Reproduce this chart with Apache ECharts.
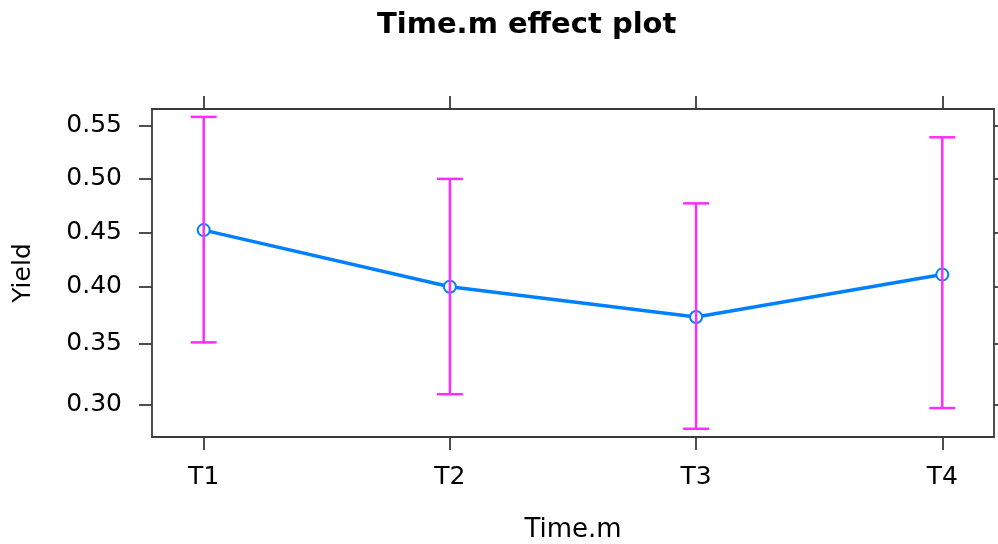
<!DOCTYPE html>
<html>
<head>
<meta charset="utf-8">
<script src="https://cdn.jsdelivr.net/npm/echarts@6/dist/echarts.min.js"></script>
<style>
  html, body { margin: 0; padding: 0; background: #fff; }
  #chart { width: 998px; height: 544px; }
</style>
</head>
<body>
<div id="chart"></div>
<script>
// effect estimates per level (probability scale)
var cats = ['T1', 'T2', 'T3', 'T4'];
var fit = [0.452, 0.400, 0.373, 0.411];
var lower = [0.351, 0.308, 0.281, 0.297];
var upper = [0.558, 0.500, 0.477, 0.539];
var yTicks = [0.30, 0.35, 0.40, 0.45, 0.50, 0.55];
var yLim = [0.2748, 0.5653];
var xLim = [0.79, 4.21];

// the y axis is on the logit scale
function logit(p) { return Math.log(p / (1 - p)); }
function invLogit(v) { return 1 / (1 + Math.exp(-v)); }

var xPos = cats.map(function (c, i) { return i + 1; });
var lineData = [];
var barData = [];
for (var i = 0; i < cats.length; i++) {
	lineData.push([xPos[i], logit(fit[i])]);
	barData.push([xPos[i], logit(lower[i]), logit(upper[i])]);
}
var yTickVals = yTicks.map(logit);

var font = 'DejaVu Sans';
var axisCol = '#3a3a3a';

function frameAxis(extra) {
	var ax = {
		type: 'value',
		axisLine: { show: true, onZero: false, lineStyle: { color: axisCol, width: 1.8 } },
		axisTick: { show: true, length: 13, lineStyle: { color: axisCol, width: 1.8 } },
		axisLabel: { show: false },
		splitLine: { show: false }
	};
	for (var k in extra) ax[k] = extra[k];
	return ax;
}

var dom = document.getElementById('chart');
var myChart = echarts.init(dom);
var option = {
	animation: false,
	title: {
		text: 'Time.m effect plot',
		left: 372,
		top: 6,
		textStyle: { fontFamily: font, fontWeight: 'bold', fontSize: 29, color: '#000' }
	},
	grid: { left: 152, right: 4, top: 109, bottom: 107, outerBoundsMode: 'none', containLabel: false },
	xAxis: [frameAxis({
		min: xLim[0], max: xLim[1], position: 'bottom',
		name: 'Time.m', nameLocation: 'middle', nameGap: 80,
		nameTextStyle: { fontFamily: font, fontSize: 26, color: '#000' },
		axisTick: { show: true, length: 13, customValues: xPos, lineStyle: { color: axisCol, width: 1.8 } },
		axisLabel: {
			margin: 28, customValues: xPos,
			fontFamily: font, fontSize: 25, color: '#000',
			formatter: function (v) { return cats[Math.round(v) - 1]; }
		}
	}), frameAxis({
		min: xLim[0], max: xLim[1], position: 'top',
		axisTick: { show: true, length: 13, customValues: xPos, lineStyle: { color: axisCol, width: 1.8 } }
	})],
	yAxis: [frameAxis({
		min: logit(yLim[0]), max: logit(yLim[1]), position: 'left',
		name: 'Yield', nameLocation: 'middle', nameGap: 129,
		nameTextStyle: { fontFamily: font, fontSize: 25, color: '#000', verticalAlign: 'middle' },
		axisTick: { show: true, length: 13, customValues: yTickVals, lineStyle: { color: axisCol, width: 1.8 } },
		axisLabel: {
			margin: 30, customValues: yTickVals,
			fontFamily: font, fontSize: 25, color: '#000',
			formatter: function (v) { return invLogit(v).toFixed(2); }
		}
	}), frameAxis({
		min: logit(yLim[0]), max: logit(yLim[1]), position: 'right',
		axisTick: { show: true, length: 13, customValues: yTickVals, lineStyle: { color: axisCol, width: 1.8 } }
	})],
	series: [{
		type: 'line',
		data: lineData,
		symbol: 'emptyCircle',
		symbolSize: 12,
		lineStyle: { color: '#0080ff', width: 3.5 },
		itemStyle: { color: '#0080ff', borderColor: '#0080ff', borderWidth: 3 },
		z: 2
	}, {
		type: 'custom',
		data: barData,
		z: 3,
		renderItem: function (params, api) {
			var x = api.value(0);
			var lo = api.coord([x, api.value(1)]);
			var hi = api.coord([x, api.value(2)]);
			var w = 13;
			var st = { stroke: '#ff2bff', lineWidth: 2.5 };
			return {
				type: 'group',
				children: [
					{ type: 'line', shape: { x1: lo[0], y1: lo[1], x2: hi[0], y2: hi[1] }, style: st },
					{ type: 'line', shape: { x1: lo[0] - w, y1: lo[1], x2: lo[0] + w, y2: lo[1] }, style: st },
					{ type: 'line', shape: { x1: hi[0] - w, y1: hi[1], x2: hi[0] + w, y2: hi[1] }, style: st }
				]
			};
		}
	}]
};
if (option && typeof option === "object") {
	myChart.setOption(option, true);
}
</script>
</body>
</html>
